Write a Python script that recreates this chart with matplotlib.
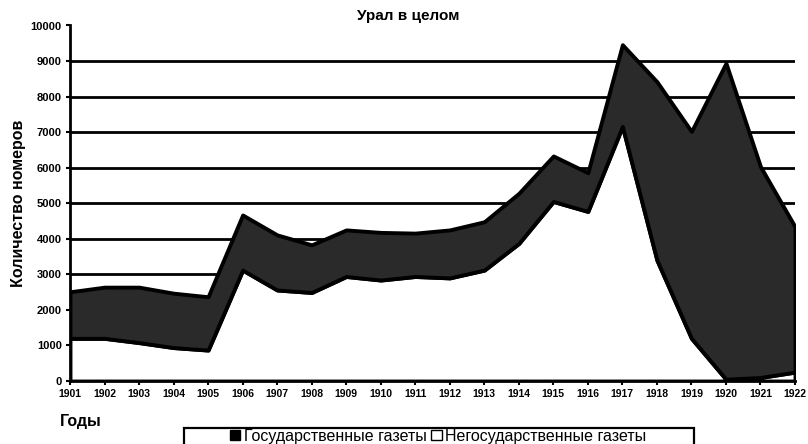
import matplotlib
matplotlib.use("Agg")
import matplotlib.pyplot as plt
from matplotlib.patches import Patch, Rectangle

plt.rcParams['font.family'] = ['Liberation Sans', 'DejaVu Sans']

years = list(range(1901, 1923))
total = [2510, 2640, 2640, 2470, 2370, 4670, 4110, 3830, 4250, 4180, 4160,
         4250, 4480, 5280, 6330, 5860, 9460, 8420, 7020, 8940, 6030, 4340]
nonstate = [1200, 1200, 1080, 940, 870, 3120, 2560, 2490, 2940, 2840, 2940,
            2900, 3120, 3870, 5050, 4770, 7160, 3400, 1200, 50, 100, 250]
state = [t - n for t, n in zip(total, nonstate)]
yticks = list(range(0, 10001, 1000))

title = "Урал в целом"
ylabel = "Количество номеров"
xlabel = "Годы"
labels = ["Государственные газеты", "Негосударственные газеты"]

W, H = 808, 444
fig = plt.figure(figsize=(W / 100, H / 100), dpi=100)
ax = fig.add_axes([70 / W, 1 - 381 / H, 725 / W, 355.5 / H])

ax.stackplot(years, nonstate, state, colors=['white', '#2a2a2a'],
             edgecolor='black', linewidth=2.8, zorder=3)

ax.set_xlim(1901, 1922)
ax.set_ylim(0, 10000)
ax.set_xticks(years)
ax.set_xticklabels([str(y) for y in years], fontsize=7.5, fontweight='bold')
ax.set_yticks(yticks)
ax.set_yticklabels([str(v) for v in yticks], fontsize=8, fontweight='bold')
ax.yaxis.grid(True, color='black', linewidth=2, zorder=0)
ax.set_axisbelow(True)
ax.get_ygridlines()[-1].set_visible(False)
ax.get_ygridlines()[0].set_visible(False)
for s in ['top', 'right']:
    ax.spines[s].set_visible(False)
for s in ['left', 'bottom']:
    ax.spines[s].set_linewidth(2)
    ax.spines[s].set_zorder(5)
ax.tick_params(axis='both', length=3, width=1.5, pad=3)

fig.text(408 / W, 1 - 16 / H, title, ha='center', va='center',
         fontsize=11, fontweight='bold')
fig.text(19 / W, 1 - 203 / H, ylabel, rotation=90, ha='center', va='center',
         fontsize=11.5, fontweight='bold')
fig.text(60 / W, 1 - 421 / H, xlabel, ha='left', va='center',
         fontsize=11.5, fontweight='bold')

# legend frame
fig.add_artist(Rectangle((184 / W, 1 - 448 / H), 510 / W, 20 / H,
                         transform=fig.transFigure, facecolor='white',
                         edgecolor='black', linewidth=1.6))
handles = [Patch(facecolor='black', edgecolor='black'),
           Patch(facecolor='white', edgecolor='black')]
leg = fig.legend(handles, labels, loc='center', bbox_to_anchor=(438 / W, 1 - 436 / H),
                 ncol=2, fontsize=11.5, frameon=False,
                 handlelength=0.65, handleheight=0.65, handletextpad=0.2,
                 columnspacing=0.3, borderpad=0.0)

fig.savefig("out.png", dpi=100)
